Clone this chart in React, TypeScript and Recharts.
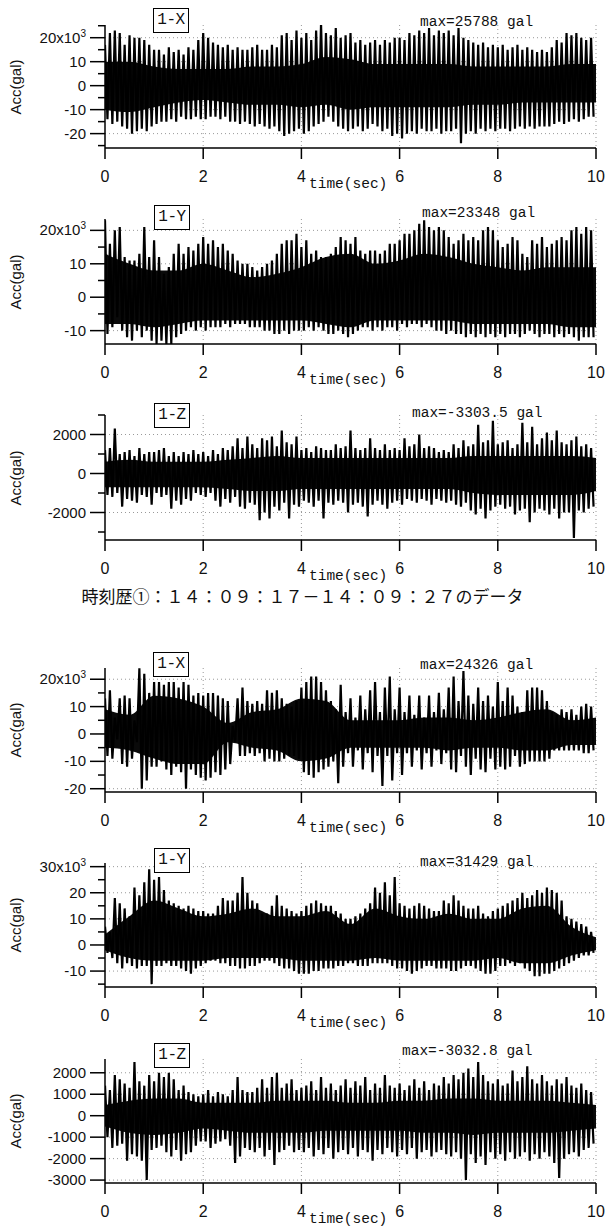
import React from "react";
import { ComposedChart, Line, Area, XAxis, YAxis, CartesianGrid } from "recharts";

// Peaks, one upward peak per 0.1 s (at t) and one
// downward peak half a step later. X/Y in 10^3 gal, Z in gal.
const x1Up = [
  17, 22, 23, 22, 17, 21, 20, 20, 19, 17,
  15, 15, 13, 16, 14, 15, 13, 16, 15, 19,
  22, 20, 18, 17, 16, 17, 15, 16, 15, 15,
  16, 17, 15, 15, 17, 16, 21, 22, 19, 23,
  20, 22, 19, 23, 26, 22, 21, 24, 20, 21,
  22, 18, 19, 17, 18, 19, 17, 19, 18, 20,
  20, 19, 22, 21, 23, 22, 24, 21, 23, 22,
  23, 21, 24, 20, 19, 18, 17, 18, 16, 17,
  16, 17, 15, 16, 17, 15, 16, 15, 14, 15,
  14, 16, 19, 18, 22, 21, 22, 20, 19, 20,
];
const x1Lo = [
  -14, -16, -15, -17, -18, -20, -19, -18, -19, -17,
  -16, -15, -15, -14, -15, -13, -14, -14, -13, -14,
  -14, -13, -13, -14, -13, -15, -15, -16, -15, -16,
  -17, -16, -17, -18, -17, -19, -21, -20, -19, -18,
  -20, -19, -17, -16, -15, -13, -15, -17, -18, -19,
  -18, -17, -19, -18, -16, -17, -19, -18, -21, -20,
  -22, -20, -19, -20, -18, -19, -19, -18, -20, -19,
  -19, -18, -24, -20, -19, -20, -18, -19, -18, -19,
  -18, -18, -19, -18, -17, -18, -17, -18, -17, -17,
  -17, -16, -15, -16, -15, -14, -15, -14, -13, -13,
];
// dense body of the trace, every 0.5 s
const x1CoreHi = [10, 10, 8, 7, 7, 7, 8, 8, 9, 12, 11, 9, 9, 9, 9, 8, 8, 8, 8, 9, 9];
const x1CoreLo = [-10, -11, -9, -7, -6, -7, -8, -8, -9, -8, -10, -9, -9, -9, -9, -8, -8, -7, -7, -7, -7];

const y1Up = [
  23, 16, 20, 21, 12, 11, 11, 13, 21, 12,
  17, 12, 7, 9, 13, 16, 13, 15, 14, 16,
  18, 16, 17, 15, 16, 14, 13, 11, 10, 10,
  9, 8, 9, 10, 11, 13, 16, 17, 17, 19,
  15, 17, 13, 14, 12, 12, 13, 15, 18, 17,
  16, 18, 14, 13, 14, 14, 13, 14, 16, 16,
  17, 19, 19, 20, 22, 23, 21, 20, 21, 20,
  18, 16, 17, 19, 17, 18, 17, 20, 21, 20,
  17, 15, 16, 18, 17, 13, 12, 17, 16, 18,
  15, 16, 17, 18, 17, 20, 21, 19, 21, 20,
];
const y1Lo = [
  -11, -9, -6, -10, -12, -13, -10, -12, -10, -13,
  -14, -13, -14, -14, -12, -11, -10, -9, -10, -9,
  -10, -9, -9, -9, -8, -9, -8, -8, -8, -9,
  -9, -9, -10, -10, -11, -11, -10, -11, -10, -10,
  -10, -9, -10, -9, -10, -11, -11, -10, -11, -12,
  -11, -10, -9, -9, -10, -9, -10, -9, -9, -10,
  -8, -9, -8, -8, -9, -8, -9, -10, -10, -11,
  -10, -11, -11, -12, -11, -12, -11, -12, -11, -12,
  -11, -12, -11, -11, -12, -11, -10, -11, -12, -11,
  -11, -12, -11, -12, -11, -12, -13, -12, -12, -12,
];
const y1CoreHi = [13, 10, 8, 8, 10, 8, 6, 7, 9, 12, 13, 10, 11, 13, 12, 10, 9, 8, 9, 9, 9];
const y1CoreLo = [-8, -8, -9, -8, -7, -7, -7, -7, -7, -8, -9, -7, -7, -7, -7, -8, -8, -8, -8, -9, -9];

const z1Up = [
  1200, 1300, 2300, 1000, 1100, 1200, 900, 1300, 1000, 1100,
  1100, 1200, 1300, 900, 1100, 900, 1100, 1000, 1200, 1000,
  1100, 900, 1200, 1000, 1300, 1200, 1400, 1800, 1300, 1900,
  1500, 1300, 1800, 1700, 1900, 1400, 2200, 1600, 1500, 1900,
  1200, 1300, 1100, 1400, 1300, 1200, 1200, 1500, 1300, 1400,
  2200, 1300, 1200, 1300, 1800, 1300, 1200, 1500, 1200, 1300,
  1200, 1800, 1400, 1500, 2000, 1300, 1400, 1300, 1100, 1200,
  1100, 1500, 1300, 1700, 1400, 1500, 2500, 1600, 1700, 2700,
  1500, 1600, 1700, 1300, 1500, 2600, 1600, 2400, 1500, 1800,
  2100, 1700, 2200, 1600, 1500, 1700, 1900, 1400, 1500, 1300,
];
const z1Lo = [
  -1100, -1200, -1000, -1700, -1300, -1400, -1500, -1100, -1200, -1600,
  -1000, -1200, -1100, -1800, -1400, -1600, -1300, -1400, -1000, -1100,
  -1200, -1000, -1400, -1700, -1300, -1500, -1200, -1700, -1800, -1500,
  -1600, -2400, -2000, -2300, -1700, -1900, -1500, -2300, -1600, -1700,
  -1400, -1500, -1700, -1400, -2300, -1500, -1600, -1400, -1500, -2000,
  -1600, -1500, -1700, -2200, -1600, -1400, -1600, -1800, -1500, -1400,
  -1600, -1300, -1400, -1500, -1300, -1400, -1600, -1300, -1400, -1500,
  -1400, -1600, -1700, -1500, -1900, -2100, -1800, -2300, -1900, -1700,
  -1600, -1800, -1700, -2100, -1900, -1800, -2500, -2000, -1800, -1900,
  -2100, -1800, -2300, -2000, -2000, -3300, -1900, -2000, -1800, -1700,
];
const z1CoreHi = [600, 700, 600, 600, 600, 700, 800, 900, 800, 800, 800, 800, 800, 800, 800, 900, 900, 900, 900, 900, 800];
const z1CoreLo = [-700, -700, -700, -700, -700, -800, -900, -900, -800, -800, -800, -800, -800, -800, -800, -1000, -1100, -1100, -1100, -1100, -900];

const x2Up = [
  13, 16, 6, 13, 14, 13, 5, 24, 22, 15,
  19, 19, 18, 19, 19, 17, 19, 18, 14, 15,
  14, 15, 15, 14, 13, 12, 3, 13, 17, 12,
  11, 12, 11, 16, 15, 16, 13, 11, 10, 12,
  17, 19, 21, 21, 19, 16, 12, 9, 18, 8,
  13, 6, 14, 9, 16, 19, 8, 17, 21, 9,
  17, 8, 14, 7, 14, 6, 14, 8, 15, 9,
  17, 21, 12, 23, 14, 11, 17, 12, 14, 10,
  19, 12, 17, 14, 10, 8, 16, 17, 17, 16,
  12, 8, 7, 9, 8, 9, 7, 10, 11, 10,
];
const x2Lo = [
  -8, -9, -2, -11, -12, -9, -3, -20, -17, -12,
  -12, -10, -13, -15, -12, -14, -20, -13, -15, -16,
  -17, -16, -14, -15, -13, -11, -3, -8, -8, -7,
  -8, -7, -10, -9, -10, -10, -9, -8, -8, -9,
  -14, -15, -16, -14, -13, -12, -10, -18, -12, -7,
  -12, -6, -13, -7, -14, -8, -19, -8, -17, -7,
  -15, -7, -12, -6, -13, -7, -12, -6, -11, -7,
  -13, -14, -8, -12, -15, -9, -13, -14, -9, -13,
  -12, -13, -12, -8, -12, -11, -10, -10, -10, -10,
  -9, -6, -6, -6, -6, -6, -6, -7, -7, -6,
];
const x2CoreHi = [9, 7, 14, 13, 10, 4, 8, 9, 13, 12, 5, 5, 5, 6, 6, 5, 6, 8, 9, 5, 6];
const x2CoreLo = [-5, -6, -9, -11, -11, -3, -5, -6, -10, -9, -5, -5, -5, -5, -6, -5, -5, -6, -6, -4, -4];

const y2Up = [
  7, 5, 18, 16, 14, 11, 22, 19, 24, 29,
  25, 26, 21, 17, 16, 15, 14, 15, 14, 13,
  13, 12, 12, 15, 18, 17, 17, 20, 26, 20,
  17, 16, 12, 12, 15, 19, 15, 14, 13, 12,
  13, 15, 16, 17, 16, 15, 15, 13, 12, 10,
  10, 11, 12, 14, 16, 22, 20, 24, 19, 26,
  16, 15, 14, 15, 16, 15, 14, 13, 13, 17,
  16, 19, 17, 15, 14, 14, 15, 12, 11, 13,
  14, 15, 16, 17, 18, 20, 18, 19, 21, 20,
  22, 21, 20, 17, 11, 10, 9, 8, 7, 5,
];
const y2Lo = [
  -3, -5, -7, -9, -7, -8, -9, -8, -8, -15,
  -8, -8, -7, -8, -8, -9, -10, -11, -9, -8,
  -7, -6, -6, -7, -7, -8, -8, -9, -9, -8,
  -8, -7, -6, -6, -7, -8, -9, -9, -10, -11,
  -11, -11, -10, -10, -9, -9, -9, -8, -8, -7,
  -7, -8, -8, -8, -7, -7, -7, -7, -8, -9,
  -9, -10, -11, -10, -9, -8, -8, -9, -9, -9,
  -10, -10, -9, -8, -8, -9, -10, -11, -11, -10,
  -8, -8, -7, -8, -7, -9, -10, -12, -12, -11,
  -11, -10, -9, -8, -7, -6, -5, -4, -4, -3,
];
const y2CoreHi = [4, 11, 17, 14, 11, 12, 14, 11, 11, 13, 8, 14, 11, 10, 12, 10, 10, 14, 15, 7, 3];
const y2CoreLo = [-2, -5, -6, -6, -6, -5, -5, -5, -6, -6, -6, -5, -6, -6, -6, -6, -5, -7, -7, -4, -2];

const z2Up = [
  1400, 1200, 1900, 1700, 1500, 1300, 2500, 1600, 1400, 1900,
  1600, 2000, 1800, 2000, 1700, 1200, 1400, 1100, 1000, 900,
  1000, 1200, 900, 1100, 1000, 900, 1200, 1800, 1200, 1100,
  1100, 1300, 1700, 1300, 1800, 2000, 1300, 1500, 1700, 1200,
  1300, 1400, 1600, 1200, 1800, 1300, 1500, 1200, 1400, 1700,
  1300, 1600, 1400, 1800, 1200, 1500, 1300, 1900, 1400, 1300,
  1500, 1200, 1400, 1700, 1300, 1600, 1200, 1500, 1400, 1800,
  1500, 1900, 1700, 2000, 2200, 1800, 2500, 1900, 1600, 1500,
  1700, 1400, 1500, 2100, 1600, 1800, 2300, 1700, 1500, 1900,
  1600, 1400, 1700, 1500, 1800, 1400, 1300, 1500, 1200, 1100,
];
const z2Lo = [
  -1000, -1500, -1400, -1300, -2100, -1800, -1900, -2100, -3000, -1600,
  -1500, -1400, -1700, -1900, -1600, -2100, -1800, -1700, -1400, -1200,
  -1200, -1500, -1300, -1200, -1100, -1400, -2200, -1900, -1500, -1600,
  -1700, -1500, -1900, -1600, -2300, -1700, -1600, -1400, -1700, -1600,
  -1700, -1500, -1900, -1600, -1800, -1500, -2000, -1700, -1600, -1800,
  -1500, -1900, -1600, -1700, -2100, -1600, -1800, -1500, -1700, -1900,
  -1600, -1800, -1500, -2000, -1700, -1600, -1900, -1700, -1600, -1800,
  -1900, -1700, -2000, -3000, -1800, -2200, -1900, -2300, -1700, -2000,
  -1800, -2100, -1700, -2000, -1900, -1700, -2100, -1800, -2000, -1700,
  -1900, -2200, -2900, -2000, -1800, -1700, -1900, -1600, -1500, -1300,
];
const z2CoreHi = [500, 700, 800, 800, 600, 600, 600, 700, 700, 700, 600, 600, 700, 700, 800, 800, 700, 700, 700, 600, 500];
const z2CoreLo = [-500, -800, -900, -800, -600, -700, -800, -800, -800, -700, -700, -700, -700, -800, -800, -900, -800, -800, -800, -700, -600];

const timeTicks = [0, 2, 4, 6, 8, 10];

const SANS = "'Liberation Sans', Arial, sans-serif";
const MONO = "'Liberation Mono', 'DejaVu Sans Mono', monospace";

function zigzag(up: number[], lo: number[]) {
  const out: { t: number; v: number }[] = [];
  up.forEach((u, i) => {
    out.push({ t: i / 10, v: u });
    out.push({ t: i / 10 + 0.05, v: lo[i] });
  });
  return out;
}

function body(hi: number[], lo: number[]) {
  return hi.map((h, i) => ({ t: i / 2, band: [lo[i], h] }));
}

type PanelProps = {
  top: number;
  bottom: number;
  domain: [number, number];
  majors: number[];
  minors: number[];
  topLabel?: string;
  up: number[];
  lo: number[];
  coreHi: number[];
  coreLo: number[];
};

function Panel({ top, bottom, domain, majors, minors, topLabel, up, lo, coreHi, coreLo }: PanelProps) {
  const h = bottom - top;
  const ticks = [...majors, ...minors].sort((a, b) => a - b);
  const hiMajor = Math.max(...majors);

  const yTick = (p: any) => {
    const v = p.payload.value;
    const major = majors.includes(v);
    return (
      <g>
        <line x1={p.x - (major ? 15 : 7)} x2={p.x} y1={p.y} y2={p.y} stroke="#000" strokeWidth={1.5} />
        {major && (
          <text x={p.x - 19} y={p.y} dy={5} textAnchor="end" fontFamily={SANS} fontSize={15} fill="#111">
            {topLabel && v === hiMajor ? (
              <>
                {topLabel}x10<tspan dy={-6} fontSize={10}>3</tspan>
              </>
            ) : (
              v
            )}
          </text>
        )}
      </g>
    );
  };

  const xTick = (p: any) => (
    <g>
      <line x1={p.x} x2={p.x} y1={p.y} y2={p.y + 11} stroke="#000" strokeWidth={1.5} />
      <text x={p.x} y={p.y + 34} textAnchor="middle" fontFamily={SANS} fontSize={16} fill="#111">
        {p.payload.value}
      </text>
    </g>
  );

  return (
    <div style={{ position: "absolute", left: 0, top: top - 10 }}>
      <ComposedChart width={605} height={h + 55} margin={{ top: 10, right: 9, bottom: 0, left: 0 }}>
        <CartesianGrid
          stroke="#999"
          strokeDasharray="1 3"
          horizontalValues={majors}
          verticalValues={[2, 4, 6, 8, 10]}
        />
        <XAxis
          type="number"
          dataKey="t"
          domain={[0, 10]}
          ticks={timeTicks}
          interval={0}
          allowDataOverflow
          height={45}
          tickSize={0}
          tickMargin={0}
          axisLine={{ stroke: "#000", strokeWidth: 1.5 }}
          tick={xTick}
        />
        <YAxis
          type="number"
          domain={domain}
          ticks={ticks}
          interval={0}
          allowDataOverflow
          width={105}
          tickSize={0}
          tickMargin={0}
          axisLine={{ stroke: "#000", strokeWidth: 1.5 }}
          tick={yTick}
        />
        <Area
          data={body(coreHi, coreLo)}
          dataKey="band"
          type="monotone"
          fill="#0a0a0a"
          fillOpacity={1}
          stroke="none"
          isAnimationActive={false}
        />
        <Line
          data={zigzag(up, lo)}
          dataKey="v"
          type="linear"
          stroke="#000"
          strokeWidth={2.2}
          dot={false}
          isAnimationActive={false}
        />
      </ComposedChart>
    </div>
  );
}

function Tag({ x, y, text }: { x: number; y: number; text: string }) {
  return (
    <div
      style={{
        position: "absolute",
        left: x,
        top: y,
        width: 34,
        height: 23,
        border: "1.5px solid #000",
        background: "#fff",
        fontFamily: MONO,
        fontSize: 16,
        lineHeight: "23px",
        letterSpacing: -0.5,
        textAlign: "center",
        color: "#111",
      }}
    >
      {text}
    </div>
  );
}

function Note({ x, y, text }: { x: number; y: number; text: string }) {
  return (
    <div
      style={{
        position: "absolute",
        left: x,
        top: y - 8,
        height: 16,
        lineHeight: "16px",
        fontFamily: MONO,
        fontSize: 14.5,
        whiteSpace: "nowrap",
        color: "#111",
      }}
    >
      {text}
    </div>
  );
}

function AccLabel({ cy }: { cy: number }) {
  return (
    <div
      style={{
        position: "absolute",
        left: 16 - 50,
        top: cy - 10,
        width: 100,
        height: 20,
        lineHeight: "20px",
        textAlign: "center",
        fontFamily: SANS,
        fontSize: 15,
        color: "#111",
        transform: "rotate(-90deg)",
      }}
    >
      Acc(gal)
    </div>
  );
}

const panels = [
  { top: 25, bottom: 148, domain: [-26, 25.3], majors: [-20, -10, 0, 10, 20], minors: [-25, -15, -5, 5, 15, 25], topLabel: "20", up: x1Up, lo: x1Lo, coreHi: x1CoreHi, coreLo: x1CoreLo, name: "1-X", tag: [153, 8], max: "max=25788 gal", maxAt: [420, 22] },
  { top: 219, bottom: 344, domain: [-14, 23.4], majors: [-10, 0, 10, 20], minors: [-5, 5, 15], topLabel: "20", up: y1Up, lo: y1Lo, coreHi: y1CoreHi, coreLo: y1CoreLo, name: "1-Y", tag: [154, 205], max: "max=23348 gal", maxAt: [422, 213] },
  { top: 415, bottom: 540, domain: [-3410, 3000], majors: [-2000, 0, 2000], minors: [-3000, -1000, 1000, 3000], up: z1Up, lo: z1Lo, coreHi: z1CoreHi, coreLo: z1CoreLo, name: "1-Z", tag: [154, 403], max: "max=-3303.5 gal", maxAt: [412, 413] },
  { top: 668, bottom: 792, domain: [-21.2, 24.1], majors: [-20, -10, 0, 10, 20], minors: [-15, -5, 5, 15], topLabel: "20", up: x2Up, lo: x2Lo, coreHi: x2CoreHi, coreLo: x2CoreLo, name: "1-X", tag: [153, 652], max: "max=24326 gal", maxAt: [420, 665] },
  { top: 863, bottom: 987, domain: [-16.1, 31.4], majors: [-10, 0, 10, 20, 30], minors: [-15, -5, 5, 15, 25], topLabel: "30", up: y2Up, lo: y2Lo, coreHi: y2CoreHi, coreLo: y2CoreLo, name: "1-Y", tag: [154, 848], max: "max=31429 gal", maxAt: [420, 862] },
  { top: 1059, bottom: 1183, domain: [-3136, 2642], majors: [-3000, -2000, -1000, 0, 1000, 2000], minors: [], up: z2Up, lo: z2Lo, coreHi: z2CoreHi, coreLo: z2CoreLo, name: "1-Z", tag: [154, 1043], max: "max=-3032.8 gal", maxAt: [402, 1051] },
];

export default function App() {
  return (
    <div style={{ position: "absolute", left: 0, top: 0, width: 605, height: 1227, background: "#fff", overflow: "hidden" }}>
      {panels.map((p, i) => (
        <Panel
          key={i}
          top={p.top}
          bottom={p.bottom}
          domain={p.domain as [number, number]}
          majors={p.majors}
          minors={p.minors}
          topLabel={p.topLabel}
          up={p.up}
          lo={p.lo}
          coreHi={p.coreHi}
          coreLo={p.coreLo}
        />
      ))}
      {panels.map((p, i) => (
        <React.Fragment key={"o" + i}>
          <Tag x={p.tag[0]} y={p.tag[1]} text={p.name} />
          <Note x={p.maxAt[0]} y={p.maxAt[1]} text={p.max} />
          <Note x={309} y={p.bottom + 36} text="time(sec)" />
          <AccLabel cy={(p.top + p.bottom) / 2} />
        </React.Fragment>
      ))}
      <div
        style={{
          position: "absolute",
          left: 0,
          top: 586,
          width: 605,
          textAlign: "center",
          fontFamily: "'Noto Sans CJK JP', serif",
          fontSize: 17,
          lineHeight: "20px",
          color: "#111",
        }}
      >
        時刻歴①：１４：０９：１７－１４：０９：２７のデータ
      </div>
    </div>
  );
}
